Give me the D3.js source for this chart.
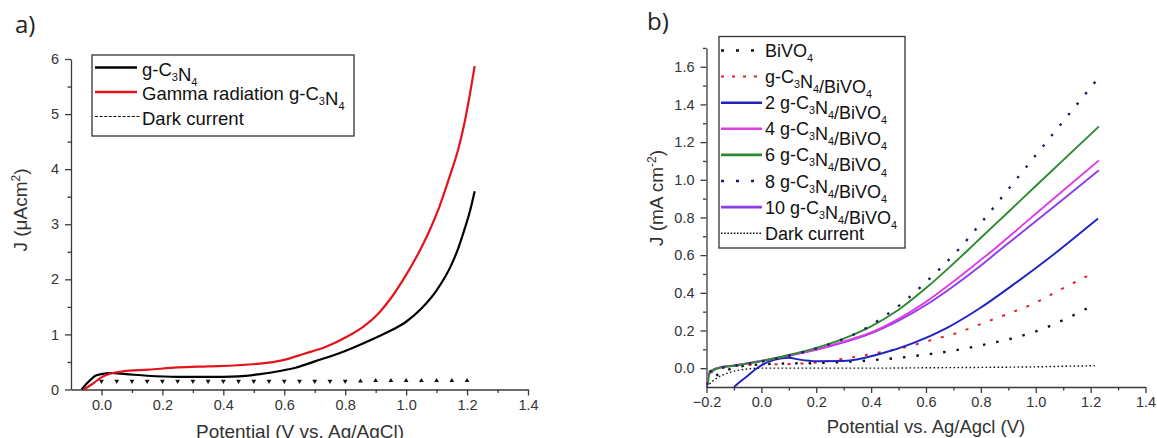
<!DOCTYPE html>
<html><head><meta charset="utf-8">
<script src="https://cdn.jsdelivr.net/npm/d3@7"></script>
<style>
html,body{margin:0;padding:0;background:#fff;}
svg{display:block;font-family:"Liberation Sans",Arial,sans-serif;}
</style></head><body>
<svg id="chart" width="1157" height="438"></svg>
<script>
// ---------- Panel a: g-C3N4 photocurrent (µA cm^-2) ----------
const gcnPotential = [-0.065,-0.05,-0.035,-0.02,0.0,0.03,0.08,0.15,0.25,0.35,0.45,0.52,0.59,0.64,0.70,0.75,0.80,0.86,0.90,0.95,1.00,1.05,1.10,1.15,1.17,1.19,1.21,1.225];
const gcnCurrent   = [0,0.10,0.18,0.25,0.28,0.30,0.28,0.25,0.23,0.23,0.24,0.28,0.34,0.40,0.51,0.60,0.70,0.84,0.94,1.07,1.23,1.47,1.80,2.28,2.55,2.88,3.25,3.60];
const gammaPotential = [-0.058,-0.03,0.0,0.03,0.07,0.155,0.25,0.35,0.447,0.52,0.593,0.666,0.739,0.81,0.86,0.909,0.958,1.0,1.04,1.078,1.11,1.143,1.171,1.193,1.209,1.225];
const gammaCurrent   = [0,0.10,0.22,0.29,0.33,0.36,0.40,0.42,0.44,0.47,0.53,0.65,0.78,0.97,1.14,1.38,1.72,2.08,2.47,2.90,3.33,3.87,4.36,4.88,5.35,5.87];
const darkPotentialA = [0.0,0.05,0.10,0.15,0.20,0.25,0.30,0.35,0.40,0.45,0.50,0.55,0.60,0.65,0.70,0.75,0.80,0.85,0.90,0.95,1.00,1.05,1.10,1.15,1.20];
const darkCurrentA   = [0.15,0.15,0.15,0.15,0.15,0.15,0.15,0.15,0.15,0.15,0.15,0.15,0.15,0.15,0.15,0.15,0.15,0.15,0.16,0.16,0.16,0.16,0.16,0.16,0.16];
const xTicksA = [0.0,0.2,0.4,0.6,0.8,1.0,1.2,1.4];
const xMinorA = [0.1,0.3,0.5,0.7,0.9,1.1,1.3];
const yTicksA = [0,1,2,3,4,5,6];
const yMinorA = [0.5,1.5,2.5,3.5,4.5,5.5];
const legendA = ["g-C_3N_4","Gamma radiation g-C_3N_4","Dark current"];

// ---------- Panel b: BiVO4 composites (mA cm^-2) ----------
const bivo4 = [[-0.2,-0.09],[-0.16,-0.035],[-0.12,-0.008],[-0.08,0.008],[0.0,0.02],[0.1,0.025],[0.2,0.027],[0.3,0.033],[0.4,0.042],[0.5,0.055],[0.6,0.072],[0.7,0.093],[0.8,0.121],[0.9,0.153],[1.0,0.195],[1.1,0.255],[1.2,0.327]];
const gcnBivo4 = [[-0.2,-0.09],[-0.18,-0.02],[-0.15,0.0],[-0.1,0.01],[0.0,0.02],[0.1,0.022],[0.2,0.03],[0.3,0.05],[0.4,0.075],[0.51,0.106],[0.614,0.147],[0.711,0.186],[0.808,0.239],[0.905,0.292],[0.996,0.345],[1.087,0.415],[1.2,0.498]];
const gcnBivo4_2 = [[-0.1,-0.1],[-0.08,-0.075],[-0.05,-0.04],[-0.02,-0.005],[0.0,0.015],[0.05,0.045],[0.1,0.055],[0.14,0.045],[0.2,0.037],[0.3,0.038],[0.431,0.075],[0.553,0.133],[0.675,0.213],[0.796,0.318],[0.917,0.442],[1.039,0.574],[1.16,0.715],[1.227,0.795]];
const gcnBivo4_4 = [[-0.2,-0.095],[-0.19,-0.025],[-0.17,-0.005],[-0.15,0.005],[-0.1,0.015],[0.0,0.04],[0.1,0.068],[0.2,0.1],[0.3,0.142],[0.4,0.19],[0.5,0.262],[0.6,0.352],[0.7,0.46],[0.8,0.575],[0.845,0.627],[0.9,0.695],[1.0,0.82],[1.1,0.943],[1.23,1.103]];
const gcnBivo4_6 = [[-0.195,-0.09],[-0.19,-0.03],[-0.175,-0.008],[-0.15,0.003],[-0.1,0.013],[0.0,0.037],[0.1,0.07],[0.2,0.108],[0.3,0.157],[0.4,0.222],[0.5,0.31],[0.6,0.425],[0.7,0.555],[0.753,0.627],[0.8,0.692],[0.9,0.829],[1.0,0.967],[1.1,1.104],[1.23,1.283]];
const gcnBivo4_8 = [[-0.2,-0.09],[-0.19,-0.02],[-0.15,0.0],[-0.1,0.012],[0.0,0.035],[0.1,0.066],[0.2,0.105],[0.3,0.155],[0.377,0.209],[0.456,0.283],[0.535,0.371],[0.614,0.477],[0.717,0.627],[0.8,0.77],[0.9,0.95],[1.0,1.13],[1.1,1.31],[1.22,1.526]];
const gcnBivo4_10 = [[-0.2,-0.095],[-0.19,-0.03],[-0.17,-0.008],[-0.15,0.003],[-0.1,0.013],[0.0,0.038],[0.1,0.065],[0.2,0.097],[0.3,0.137],[0.4,0.185],[0.5,0.252],[0.6,0.335],[0.7,0.435],[0.8,0.545],[0.869,0.627],[0.9,0.663],[1.0,0.78],[1.1,0.897],[1.23,1.05]];
const darkB = [[-0.2,-0.1],[-0.17,-0.06],[-0.13,-0.03],[-0.08,-0.01],[0.0,0.0],[0.2,0.0],[0.4,0.0],[0.6,0.002],[0.8,0.004],[1.0,0.007],[1.1,0.01],[1.215,0.013]];
const xTicksB = [-0.2,0.0,0.2,0.4,0.6,0.8,1.0,1.2,1.4];
const xMinorB = [-0.1,0.1,0.3,0.5,0.7,0.9,1.1,1.3];
const yTicksB = [0.0,0.2,0.4,0.6,0.8,1.0,1.2,1.4,1.6];
const yMinorB = [0.1,0.3,0.5,0.7,0.9,1.1,1.3,1.5,1.7];
const legendB = ["BiVO_4","g-C_3N_4/BiVO_4","2 g-C_3N_4/BiVO_4","4 g-C_3N_4/BiVO_4","6 g-C_3N_4/BiVO_4","8 g-C_3N_4/BiVO_4","10 g-C_3N_4/BiVO_4","Dark current"];

// Series styles for panel b, in legend order
const stylesB = [
  {color:"#111111", width:2.4, dash:"2.5,11", legendDash:"3,12"},
  {color:"#e3202a", width:2.0, dash:"3,10", legendDash:"3,8"},
  {color:"#1f24c0", width:1.9, dash:null, legendDash:null},
  {color:"#df3fe0", width:1.9, dash:null, legendDash:null},
  {color:"#2b8a2b", width:1.9, dash:null, legendDash:null},
  {color:"#1b1b6e", width:2.4, dash:"2.5,11", legendDash:"3,12"},
  {color:"#8c3ee8", width:1.9, dash:null, legendDash:null},
  {color:"#111111", width:1.4, dash:"1.6,2.4", legendDash:"1.6,1.6"}
];
const seriesB = [bivo4, gcnBivo4, gcnBivo4_2, gcnBivo4_4, gcnBivo4_6, gcnBivo4_8, gcnBivo4_10, darkB];

const svg = d3.select("#chart");
const AXIS = "#3a3a3a", TXT = "#333";

// text with "_x" marking a one-character subscript
function richText(sel, str, size) {
  let i = 0, buf = "";
  const flush = () => { if (buf) { sel.append("tspan").text(buf); buf = ""; } };
  while (i < str.length) {
    if (str[i] === "_") {
      flush();
      sel.append("tspan").attr("dy", size*0.28).attr("font-size", size*0.6).text(str[i+1]);
      sel.append("tspan").attr("dy", -size*0.28).text("");
      i += 2;
    } else { buf += str[i]; i++; }
  }
  flush();
}

function drawAxes(g, x, y, opts) {
  const [x0] = x.range(), [y0] = y.range();
  const fmtX = d3.format(".1f");
  g.append("g").attr("transform", `translate(0,${y0})`)
    .call(d3.axisBottom(x).tickValues(opts.xTicks).tickSize(6).tickSizeOuter(0).tickPadding(4).tickFormat(fmtX));
  g.append("g").attr("transform", `translate(0,${y0})`)
    .call(d3.axisBottom(x).tickValues(opts.xMinor).tickSize(3.5).tickSizeOuter(0).tickFormat(""))
    .select(".domain").remove();
  g.append("g").attr("transform", `translate(${x0},0)`)
    .call(d3.axisLeft(y).tickValues(opts.yTicks).tickSize(6).tickSizeOuter(0).tickPadding(opts.yPad).tickFormat(opts.yFmt));
  g.append("g").attr("transform", `translate(${x0},0)`)
    .call(d3.axisLeft(y).tickValues(opts.yMinor).tickSize(3.5).tickSizeOuter(0).tickFormat(""))
    .select(".domain").remove();
  g.selectAll(".domain, .tick line").attr("stroke", AXIS).attr("stroke-width", 1.3);
  g.selectAll(".tick text").attr("fill", TXT).attr("font-size", 14.5)
    .attr("font-family", '"Liberation Sans", Arial, sans-serif');
}

// ================= Panel a =================
{
  const x = d3.scaleLinear().domain([-0.1, 1.4]).range([71, 528]);
  const y = d3.scaleLinear().domain([0, 6]).range([389.5, 59]);
  const g = svg.append("g");
  drawAxes(g, x, y, {xTicks:xTicksA, xMinor:xMinorA, yTicks:yTicksA, yMinor:yMinorA, yPad:6, yFmt:d3.format("d")});

  const line = d3.line().x(d => x(d[0])).y(d => y(d[1])).curve(d3.curveMonotoneX);
  g.append("path").datum(d3.zip(gcnPotential, gcnCurrent))
    .attr("d", line).attr("fill", "none").attr("stroke", "#000").attr("stroke-width", 2.2);
  g.append("path").datum(d3.zip(gammaPotential, gammaCurrent))
    .attr("d", line).attr("fill", "none").attr("stroke", "#e3141c").attr("stroke-width", 2.2);

  // dark current measured points
  const tri = d3.symbol().type(d3.symbolTriangle).size(10);
  g.selectAll("path.dark").data(d3.zip(darkPotentialA, darkCurrentA)).join("path")
    .attr("class", "dark").attr("d", tri)
    .attr("transform", d => `translate(${x(d[0])},${y(d[1])}) rotate(${d[0] < 0.85 ? 180 : 0})`)
    .attr("fill", "#111");

  svg.append("text").attr("x", 300).attr("y", 437.5).attr("text-anchor", "middle")
    .attr("font-size", 19).attr("fill", TXT).text("Potential (V vs. Ag/AgCl)");
  const yl = svg.append("text").attr("transform", "translate(27,210) rotate(-90)")
    .attr("text-anchor", "middle").attr("font-size", 19).attr("fill", TXT);
  yl.append("tspan").text("J (\u03bcAcm");
  yl.append("tspan").attr("dy", -7).attr("font-size", 12).text("2");
  yl.append("tspan").attr("dy", 7).text(")");

  // legend
  const lg = svg.append("g");
  lg.append("rect").attr("x", 92).attr("y", 55).attr("width", 262).attr("height", 81)
    .attr("fill", "#fff").attr("stroke", "#333").attr("stroke-width", 1.3);
  const rowsY = [75.5, 100, 124.5];
  const sampleStyles = [
    {color:"#000", width:2.6, dash:null},
    {color:"#e3141c", width:2.6, dash:null},
    {color:"#111", width:1, dash:"3,1.6"}
  ];
  legendA.forEach((lab, i) => {
    const s = sampleStyles[i];
    lg.append("line").attr("x1", 95).attr("x2", i === 2 ? 140 : 137)
      .attr("y1", rowsY[i] - 8).attr("y2", rowsY[i] - 8)
      .attr("stroke", s.color).attr("stroke-width", s.width)
      .attr("stroke-dasharray", s.dash);
    const t = lg.append("text").attr("x", 142).attr("y", rowsY[i]).attr("font-size", 18.5).attr("fill", "#111");
    richText(t, lab, 18.5);
  });

  svg.append("text").attr("x", 15).attr("y", 33).attr("font-family", '"Open Sans", sans-serif')
    .attr("font-size", 24).attr("fill", "#222").text("a)");
}

// ================= Panel b =================
{
  const x = d3.scaleLinear().domain([-0.2, 1.4]).range([706.5, 1145.5]);
  const y = d3.scaleLinear().domain([-0.1, 1.7]).range([387, 47.9]);
  const g = svg.append("g");
  drawAxes(g, x, y, {xTicks:xTicksB, xMinor:xMinorB, yTicks:yTicksB, yMinor:yMinorB, yPad:6, yFmt:d3.format(".1f")});

  svg.append("defs").append("clipPath").attr("id", "clipB")
    .append("rect").attr("x", 706.5).attr("y", 40).attr("width", 450).attr("height", 347);
  const line = d3.line().x(d => x(d[0])).y(d => y(d[1])).curve(d3.curveMonotoneX);
  const plot = g.append("g").attr("clip-path", "url(#clipB)");
  // draw order: dark, dotted, then solids
  const order = [7, 0, 1, 2, 6, 3, 4, 5];
  order.forEach(i => {
    const s = stylesB[i];
    plot.append("path").datum(seriesB[i]).attr("d", line).attr("fill", "none")
      .attr("stroke", s.color).attr("stroke-width", s.width)
      .attr("stroke-dasharray", s.dash).attr("stroke-linecap", "butt");
  });

  svg.append("text").attr("x", 926).attr("y", 433).attr("text-anchor", "middle")
    .attr("font-size", 18.5).attr("fill", TXT).text("Potential vs. Ag/Agcl (V)");
  const yl = svg.append("text").attr("transform", "translate(663,198) rotate(-90)")
    .attr("text-anchor", "middle").attr("font-size", 19).attr("fill", TXT);
  yl.append("tspan").text("J (mA cm");
  yl.append("tspan").attr("dy", -7).attr("font-size", 12).text("-2");
  yl.append("tspan").attr("dy", 7).text(")");

  const lg = svg.append("g");
  lg.append("rect").attr("x", 719).attr("y", 36.5).attr("width", 186).attr("height", 211.5)
    .attr("fill", "#fff").attr("stroke", "#333").attr("stroke-width", 1.3);
  legendB.forEach((lab, i) => {
    const s = stylesB[i];
    const by = 57 + 26.1 * i;
    lg.append("line").attr("x1", 721).attr("x2", 762).attr("y1", by - 6.5).attr("y2", by - 6.5)
      .attr("stroke", s.color).attr("stroke-width", s.dash ? s.width : 2.6)
      .attr("stroke-dasharray", s.legendDash);
    const t = lg.append("text").attr("x", 765).attr("y", by).attr("font-size", 18).attr("fill", "#111");
    richText(t, lab, 18);
  });

  svg.append("text").attr("x", 647).attr("y", 30).attr("font-family", '"Open Sans", sans-serif')
    .attr("font-size", 24).attr("fill", "#222").text("b)");
}
</script>
</body></html>
